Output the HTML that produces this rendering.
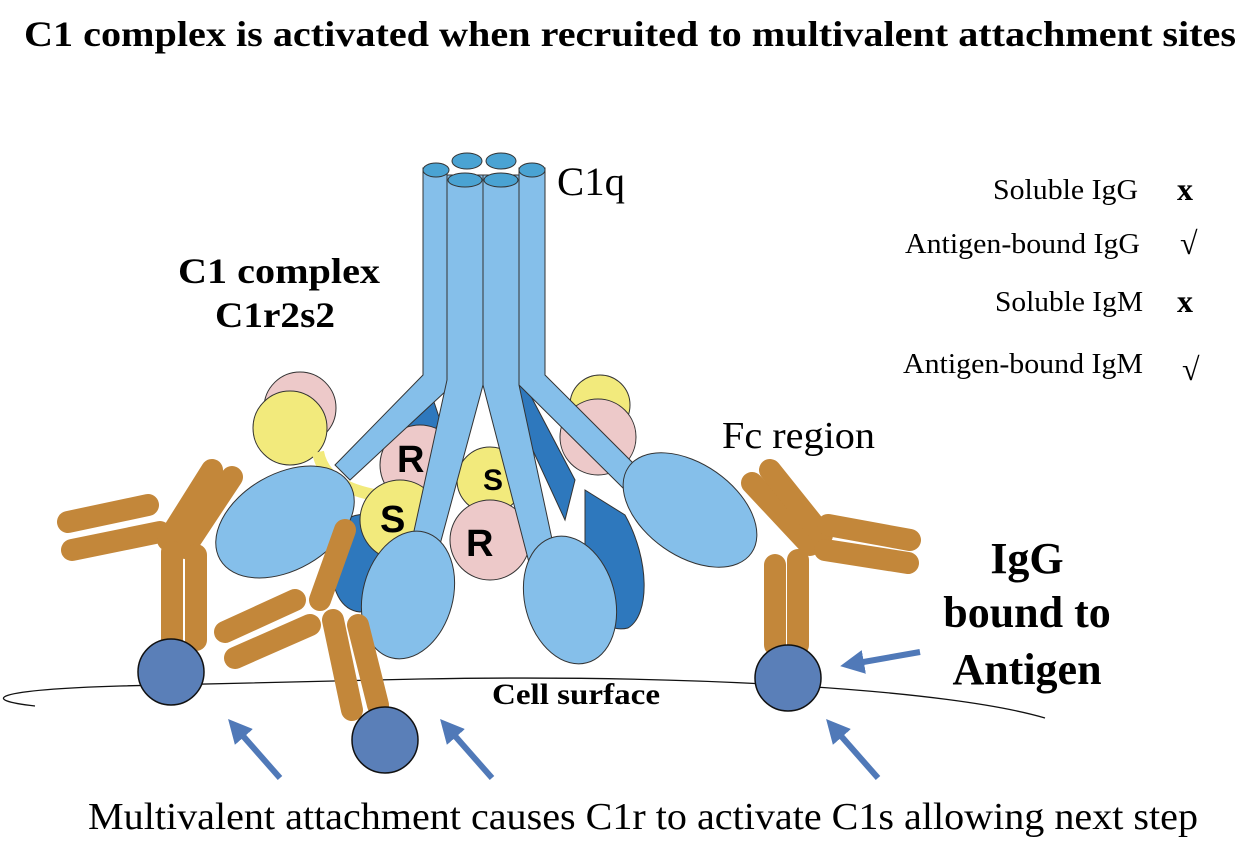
<!DOCTYPE html>
<html><head><meta charset="utf-8"><style>
html,body{margin:0;padding:0;background:#fff;}
svg{display:block}
</style></head><body>
<svg width="1249" height="848" viewBox="0 0 1249 848" xmlns="http://www.w3.org/2000/svg" font-family="Liberation Serif, serif">
<defs>
<marker id="ah" markerWidth="4" markerHeight="4" refX="2" refY="2" orient="auto" markerUnits="strokeWidth">
<path d="M0,0 L4,2 L0,4 z" fill="#5079b8"/></marker>
</defs>
<text x="630" y="46" text-anchor="middle" font-size="36" font-weight="bold" textLength="1212" lengthAdjust="spacingAndGlyphs">C1 complex is activated when recruited to multivalent attachment sites</text>

<path d="M35,706 C-20,700 -10,690 120,686 L420,679 C700,674 950,690 1045,718" fill="none" stroke="#111" stroke-width="1.3"/>

<g stroke="#333" stroke-width="1">
<path d="M330,560 C325,520 360,505 385,520 L400,600 L360,612 C340,610 332,590 330,560z" fill="#2e78bd"/>
<path d="M585,490 L625,515 C650,560 650,615 628,628 C600,635 588,600 585,570z" fill="#2e78bd"/>
<path d="M405,420 L430,390 L440,420 L415,470z" fill="#2e78bd"/>
<path d="M505,390 L525,385 L575,480 L565,520z" fill="#2e78bd"/>
<circle cx="300" cy="408" r="36" fill="#edc9c9"/>
<circle cx="290" cy="428" r="37" fill="#f2ea7c"/>
<circle cx="600" cy="405" r="30" fill="#f2ea7c"/>
<path d="M318,452 C325,490 370,495 405,500" fill="none" stroke="#f2ea7c" stroke-width="12"/>
<circle cx="420" cy="465" r="40" fill="#edc9c9"/>
<circle cx="490" cy="480" r="33" fill="#f2ea7c"/>
<circle cx="400" cy="520" r="40" fill="#f2ea7c"/>
<circle cx="490" cy="540" r="40" fill="#edc9c9"/>
<circle cx="598" cy="437" r="38" fill="#edc9c9"/>
<path d="M423,168 L447,168 L447,390 L350,480 L335,465 L423,375z" fill="#85bfea"/>
<ellipse cx="285" cy="522" rx="75" ry="48" transform="rotate(-30 285 522)" fill="#85bfea"/>
<path d="M519,168 L545,168 L545,375 L640,470 L625,490 L519,385z" fill="#85bfea"/>
<ellipse cx="690" cy="510" rx="75" ry="46" transform="rotate(35 690 510)" fill="#85bfea"/>
<path d="M447,175 L483,175 L483,385 L425,600 L400,595 L447,380z" fill="#85bfea"/>
<ellipse cx="408" cy="595" rx="45" ry="65" transform="rotate(15 408 595)" fill="#85bfea"/>
<path d="M483,175 L519,175 L519,385 L565,600 L540,605 L483,385z" fill="#85bfea"/>
<ellipse cx="570" cy="600" rx="45" ry="65" transform="rotate(-15 570 600)" fill="#85bfea"/>
<ellipse cx="467" cy="161" rx="15" ry="8" fill="#4aa3d3"/>
<ellipse cx="501" cy="161" rx="15" ry="8" fill="#4aa3d3"/>
<ellipse cx="436" cy="170" rx="13" ry="7" fill="#4aa3d3"/>
<ellipse cx="532" cy="170" rx="13" ry="7" fill="#4aa3d3"/>
<ellipse cx="465" cy="180" rx="17" ry="7" fill="#4aa3d3"/>
<ellipse cx="501" cy="180" rx="17" ry="7" fill="#4aa3d3"/>
</g>
<g font-family="Liberation Sans, sans-serif" font-weight="bold" font-size="38">
<text x="397" y="472">R</text>
<text x="380" y="532">S</text>
<text x="483" y="490" font-size="30">S</text>
<text x="466" y="556">R</text>
</g>

<g stroke="#c3873a" stroke-width="22" stroke-linecap="round" fill="none">
<line x1="68" y1="522" x2="148" y2="505"/>
<line x1="72" y1="550" x2="160" y2="532"/>
<line x1="168" y1="540" x2="212" y2="470"/>
<line x1="185" y1="548" x2="232" y2="477"/>
<line x1="172" y1="552" x2="172" y2="640"/>
<line x1="196" y1="555" x2="196" y2="640"/>
<line x1="225" y1="632" x2="295" y2="600"/>
<line x1="235" y1="658" x2="310" y2="625"/>
<line x1="320" y1="600" x2="345" y2="530"/>
<line x1="333" y1="620" x2="352" y2="710"/>
<line x1="358" y1="625" x2="378" y2="705"/>
<line x1="752" y1="483" x2="810" y2="545"/>
<line x1="770" y1="470" x2="822" y2="535"/>
<line x1="828" y1="525" x2="910" y2="540"/>
<line x1="825" y1="550" x2="908" y2="563"/>
<line x1="775" y1="565" x2="775" y2="645"/>
<line x1="798" y1="560" x2="798" y2="645"/>
</g>
<g fill="#5a7fb8" stroke="#111" stroke-width="1.5">
<circle cx="171" cy="672" r="33"/>
<circle cx="385" cy="740" r="33"/>
<circle cx="788" cy="678" r="33"/>
</g>
<g stroke="#5079b8" stroke-width="6" marker-end="url(#ah)">
<line x1="280" y1="778" x2="236" y2="728"/>
<line x1="492" y1="778" x2="448" y2="728"/>
<line x1="878" y1="778" x2="834" y2="728"/>
<line x1="920" y1="652" x2="852" y2="664"/>
</g>

<text x="557" y="195" font-size="40" textLength="68" lengthAdjust="spacingAndGlyphs">C1q</text>
<g font-weight="bold" font-size="36" text-anchor="middle">
<text x="279" y="283" textLength="202" lengthAdjust="spacingAndGlyphs">C1 complex</text>
<text x="275" y="327" textLength="120" lengthAdjust="spacingAndGlyphs">C1r2s2</text>
</g>
<text x="722" y="448" font-size="38" textLength="153" lengthAdjust="spacingAndGlyphs">Fc region</text>
<g font-weight="bold" font-size="44" text-anchor="middle">
<text x="1027" y="573">IgG</text>
<text x="1027" y="627">bound to</text>
<text x="1027" y="684">Antigen</text>
</g>
<text x="492" y="704" font-size="30" font-weight="bold" textLength="168" lengthAdjust="spacingAndGlyphs">Cell surface</text>
<g font-size="29" text-anchor="end">
<text x="1138" y="199" textLength="145" lengthAdjust="spacingAndGlyphs">Soluble IgG</text>
<text x="1140" y="253" textLength="235" lengthAdjust="spacingAndGlyphs">Antigen-bound IgG</text>
<text x="1143" y="311" textLength="148" lengthAdjust="spacingAndGlyphs">Soluble IgM</text>
<text x="1143" y="373" textLength="240" lengthAdjust="spacingAndGlyphs">Antigen-bound IgM</text>
</g>
<g font-size="32" font-weight="bold">
<text x="1177" y="200">x</text>
<text x="1177" y="312">x</text>
</g>
<g font-size="32">
<text x="1180" y="254">√</text>
<text x="1182" y="380">√</text>
</g>
<text x="88" y="829" font-size="38" textLength="1110" lengthAdjust="spacingAndGlyphs">Multivalent attachment causes C1r to activate C1s allowing next step</text>
</svg>
</body></html>
